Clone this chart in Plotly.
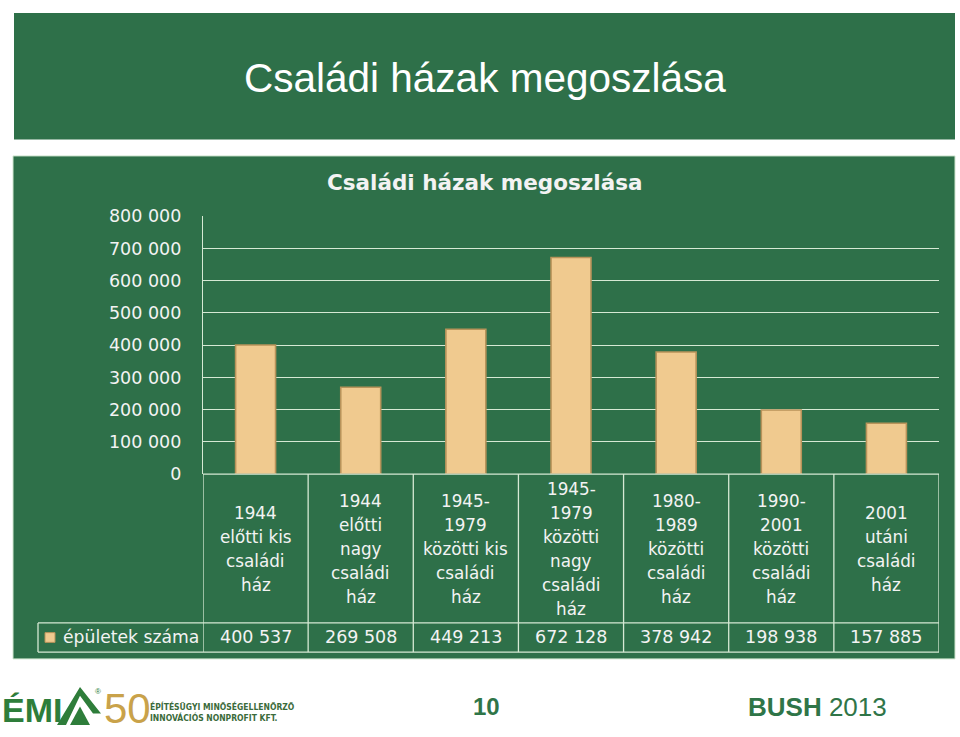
import plotly.graph_objects as go

# ---------------- data ----------------
categories = [
    "1944 előtti kis családi ház",
    "1944 előtti nagy családi ház",
    "1945-1979 közötti kis családi ház",
    "1945-1979 közötti nagy családi ház",
    "1980-1989 közötti családi ház",
    "1990-2001 közötti családi ház",
    "2001 utáni családi ház",
]
category_lines = [
    ["1944", "előtti kis", "családi", "ház"],
    ["1944", "előtti", "nagy", "családi", "ház"],
    ["1945-", "1979", "közötti kis", "családi", "ház"],
    ["1945-", "1979", "közötti", "nagy", "családi", "ház"],
    ["1980-", "1989", "közötti", "családi", "ház"],
    ["1990-", "2001", "közötti", "családi", "ház"],
    ["2001", "utáni", "családi", "ház"],
]
values = [400537, 269508, 449213, 672128, 378942, 198938, 157885]
series_name = "épületek száma"
y_ticks = [0, 100000, 200000, 300000, 400000, 500000, 600000, 700000, 800000]
slide_title = "Családi házak megoszlása"
chart_title = "Családi házak megoszlása"
page_number = "10"
footer_left = "BUSH"
footer_right = "2013"

# ---------------- layout helpers ----------------
W, H = 960, 737
def px(x):
    return x / W
def py(y):
    return 1 - y / H

GREEN = "#2e7049"
LINE = "#d6e9d4"
TXT = "#f3f3f3"
FONT = "DejaVu Sans"
BAR = "#f0ca8f"
BAR_EDGE = "#b8935a"

plot_left, plot_right = 203, 939
plot_top, plot_zero = 212, 477
table_row_top, table_row_bottom = 630, 660

fig = go.Figure()
fig.add_trace(go.Bar(
    x=categories, y=values, name=series_name, width=0.38,
    marker=dict(color=BAR, line=dict(color=BAR_EDGE, width=1.6)),
    hoverinfo="x+y",
))

shapes = []
# slide title box
shapes.append(dict(type="rect", xref="paper", yref="paper", x0=px(14), x1=px(955),
                   y0=py(133), y1=py(3), fillcolor=GREEN, line=dict(width=0), layer="below"))
# chart box
shapes.append(dict(type="rect", xref="paper", yref="paper", x0=px(13), x1=px(955),
                   y0=py(667), y1=py(150), fillcolor=GREEN, line=dict(color="#cfe6cf", width=1),
                   layer="below"))
# x axis line at zero
shapes.append(dict(type="line", xref="paper", yref="paper", x0=px(plot_left), x1=px(plot_right),
                   y0=py(plot_zero), y1=py(plot_zero), line=dict(color=LINE, width=1.3)))
# table horizontal lines
for yy in (table_row_top, table_row_bottom):
    shapes.append(dict(type="line", xref="paper", yref="paper", x0=px(38), x1=px(plot_right),
                       y0=py(yy), y1=py(yy), line=dict(color=LINE, width=1.3)))
# table vertical lines
for i in range(len(categories) + 1):
    shapes.append(dict(type="line", xref="x", yref="paper", x0=i - 0.5, x1=i - 0.5,
                       y0=py(table_row_bottom), y1=py(plot_zero), line=dict(color=LINE, width=1.3)))
shapes.append(dict(type="line", xref="paper", yref="paper", x0=px(38), x1=px(38),
                   y0=py(table_row_bottom), y1=py(table_row_top), line=dict(color=LINE, width=1.3)))
# legend key
shapes.append(dict(type="rect", xref="paper", yref="paper", x0=px(45), x1=px(55),
                   y0=py(650), y1=py(640), fillcolor=BAR, line=dict(color=BAR_EDGE, width=1)))

# logo house shape (decoration)
def path(points):
    return "M " + " L ".join(f"{px(a)} {py(b)}" for a, b in points) + " Z"
shapes.append(dict(type="path", xref="paper", yref="paper",
                   path=path([(57, 735), (80, 696), (101, 723), (93, 723), (80, 705), (66, 735)]),
                   fillcolor="#2e7d3a", line=dict(width=0)))
shapes.append(dict(type="path", xref="paper", yref="paper",
                   path=path([(70, 735), (80, 716), (90, 735)]),
                   fillcolor="#2e7d3a", line=dict(width=0)))

annotations = []
# slide title
annotations.append(dict(text=slide_title, xref="paper", yref="paper", x=px(485), y=py(70),
                        showarrow=False, font=dict(family="Liberation Sans", size=40.5, color="white"),
                        xanchor="center", yanchor="middle"))
# chart title
annotations.append(dict(text=f"<b>{chart_title}</b>", xref="paper", yref="paper", x=px(484), y=py(177),
                        showarrow=False, font=dict(family=FONT, size=21.5, color=TXT),
                        xanchor="center", yanchor="middle"))
# category labels (one annotation per line)
spacing = 24.5
center = 554
for i, lines in enumerate(category_lines):
    n = len(lines)
    for k, ln in enumerate(lines):
        yy = center + (k - (n - 1) / 2) * spacing
        annotations.append(dict(text=ln, xref="x", yref="paper", x=i, y=py(yy), showarrow=False,
                                font=dict(family=FONT, size=16.8, color=TXT),
                                xanchor="center", yanchor="middle"))
# values row
for i, v in enumerate(values):
    annotations.append(dict(text=f"{v:,}".replace(",", " "), xref="x", yref="paper", x=i, y=py(645),
                            showarrow=False, font=dict(family=FONT, size=17.5, color=TXT),
                            xanchor="center", yanchor="middle"))
# series name
annotations.append(dict(text=series_name, xref="paper", yref="paper", x=px(61), y=py(645),
                        showarrow=False, font=dict(family=FONT, size=17.2, color=TXT),
                        xanchor="left", yanchor="middle"))
# footer
annotations.append(dict(text=f"<b>{page_number}</b>", xref="paper", yref="paper", x=px(486), y=py(716),
                        showarrow=False, font=dict(family="Liberation Sans", size=24, color="#2f7548"),
                        xanchor="center", yanchor="middle"))
annotations.append(dict(text=f"<b>{footer_left}</b> {footer_right}", xref="paper", yref="paper",
                        x=px(746), y=py(716), showarrow=False,
                        font=dict(family="Liberation Sans", size=26, color="#2f7548"),
                        xanchor="left", yanchor="middle"))
# logo texts
annotations.append(dict(text="<b>ÉMI</b>", xref="paper", yref="paper", x=px(0), y=py(720),
                        showarrow=False, font=dict(family="Liberation Sans", size=34, color="#2e7d3a"),
                        xanchor="left", yanchor="middle"))
annotations.append(dict(text="®", xref="paper", yref="paper", x=px(98), y=py(701),
                        showarrow=False, font=dict(family="Liberation Sans", size=8, color="#2e7d3a"),
                        xanchor="center", yanchor="middle"))
annotations.append(dict(text="50", xref="paper", yref="paper", x=px(102), y=py(718),
                        showarrow=False, font=dict(family="Liberation Sans", size=42, color="#c9a24a"),
                        xanchor="left", yanchor="middle"))
annotations.append(dict(text="<b>ÉPÍTÉSÜGYI MINŐSÉGELLENŐRZŐ</b><br><b>INNOVÁCIÓS NONPROFIT KFT.</b>",
                        xref="paper", yref="paper", x=px(148), y=py(722), showarrow=False,
                        font=dict(family="DejaVu Sans Condensed", size=8.5, color="#3b6b3b"),
                        xanchor="left", yanchor="middle", align="left"))

fig.update_layout(
    width=W, height=H,
    margin=dict(l=0, r=0, t=0, b=0),
    paper_bgcolor="white",
    plot_bgcolor="rgba(0,0,0,0)",
    showlegend=False,
    separators=". ",
    shapes=shapes,
    annotations=annotations,
    xaxis=dict(domain=[px(plot_left), px(plot_right)], range=[-0.5, len(categories) - 0.5],
               showticklabels=False, showgrid=False, zeroline=False, showline=False, ticks=""),
    yaxis=dict(domain=[py(plot_zero), py(plot_top)], range=[0, 800000], tickvals=y_ticks,
               tickformat=",d", showgrid=True, gridcolor=LINE, gridwidth=1.3, zeroline=False,
               showline=True, linecolor=LINE, linewidth=1.3, ticks="", ticklabelstandoff=17,
               tickfont=dict(family=FONT, size=17.5, color=TXT)),
)

fig.write_html("out.html",
               post_script="document.body.style.margin='0';document.body.style.overflow='hidden';")
